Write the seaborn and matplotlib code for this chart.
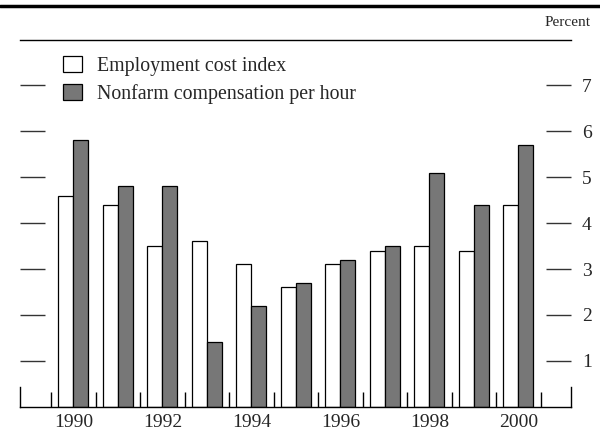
import pandas as pd
import matplotlib
matplotlib.use("Agg")
import matplotlib.pyplot as plt
from matplotlib.lines import Line2D
import seaborn as sns

years = [str(y) for y in range(1990, 2001)]
eci = [4.6, 4.4, 3.5, 3.6, 3.1, 2.6, 3.1, 3.4, 3.5, 3.4, 4.4]
nonfarm = [5.8, 4.8, 4.8, 1.4, 2.2, 2.7, 3.2, 3.5, 5.1, 4.4, 5.7]
series = ["Employment cost index", "Nonfarm compensation per hour"]
yticks = [1, 2, 3, 4, 5, 6, 7]
year_labels = ["1990", "", "1992", "", "1994", "", "1996", "", "1998", "", "2000"]

GRAY = "#777777"

df = pd.DataFrame({
    "Year": years * 2,
    "Value": eci + nonfarm,
    "Series": [series[0]] * len(years) + [series[1]] * len(years),
})

sns.set_style("white")
plt.rcParams["font.family"] = ["Liberation Serif", "DejaVu Serif"]

fig = plt.figure(figsize=(6, 4.33), dpi=100)
ax = fig.add_axes([20 / 600, 26.3 / 433, 551 / 600, (406.7 - 39.5) / 433])

sns.barplot(data=df, x="Year", y="Value", hue="Series",
            palette=["white", GRAY], edgecolor="black", linewidth=0.9,
            width=0.674, saturation=1, ax=ax, legend=True)

ax.set_xlim(-1.2, 11.18)
ax.set_ylim(0, 8)
ax.set_xlabel(""); ax.set_ylabel("")

# spines: bottom line, short end ticks, top rule
for s in ["left", "right"]:
    ax.spines[s].set_bounds(0, 0.44)
    ax.spines[s].set_linewidth(1.0)
    ax.spines[s].set_color("black")
ax.spines["bottom"].set_color("black")
ax.spines["bottom"].set_linewidth(1.0)
ax.spines["top"].set_color("black")
ax.spines["top"].set_linewidth(1.0)

ax.set_xticks(range(len(years)))
ax.set_xticklabels(year_labels, fontsize=14)
ax.tick_params(axis="x", which="major", length=0, pad=5)
ax.set_xticks([i - 0.5 for i in range(len(years) + 1)], minor=True)
ax.tick_params(axis="x", which="minor", direction="in", length=11,
               width=1.0, color="black", bottom=True)

ax.set_yticks(yticks)
ax.set_yticklabels([str(t) for t in yticks], fontsize=14)
ax.tick_params(axis="y", direction="in", length=18, width=1.0,
               color="#333333", left=True, right=True,
               labelleft=False, labelright=True, pad=8)

handles, labels = ax.get_legend_handles_labels()
ax.legend(handles, labels, frameon=False, fontsize=14.3,
          loc="upper left", bbox_to_anchor=(63 / 600, 1 - 56 / 433),
          bbox_transform=fig.transFigure, borderaxespad=0, borderpad=0,
          handlelength=0.95, handleheight=0.85, handletextpad=0.75,
          labelspacing=0.4)

fig.text(591 / 600, 1 - 22 / 433, "Percent", ha="right", va="center", fontsize=11)
fig.add_artist(Line2D([0, 1], [1 - 6 / 433, 1 - 6 / 433], color="black",
                      linewidth=2.5, transform=fig.transFigure))

fig.savefig("out.png", dpi=100, facecolor="white")
